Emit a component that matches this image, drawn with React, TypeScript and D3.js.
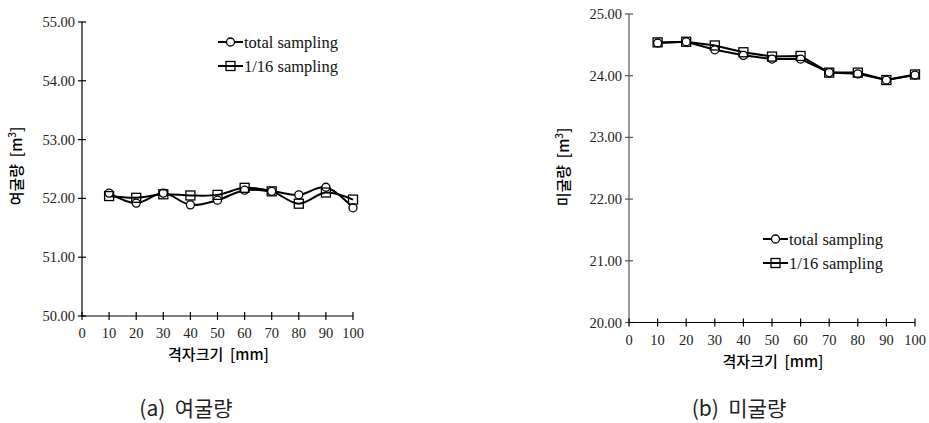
import React, { useEffect, useRef } from 'react';
import * as d3 from 'd3';

// grid size [mm]
const gridSizes = [10, 20, 30, 40, 50, 60, 70, 80, 90, 100];
const xTicks = [0, 10, 20, 30, 40, 50, 60, 70, 80, 90, 100];

// (a) 여굴량
const overTotal = [52.09, 51.92, 52.09, 51.89, 51.97, 52.14, 52.12, 52.06, 52.19, 51.84];
const overSixteenth = [52.04, 52.01, 52.07, 52.05, 52.06, 52.18, 52.12, 51.91, 52.10, 51.98];
const overTicks = [50, 51, 52, 53, 54, 55];

// (b) 미굴량
const underTotal = [24.53, 24.55, 24.42, 24.33, 24.27, 24.27, 24.05, 24.03, 23.93, 24.01];
const underSixteenth = [24.54, 24.55, 24.49, 24.38, 24.31, 24.32, 24.05, 24.05, 23.93, 24.02];
const underTicks = [20, 21, 22, 23, 24, 25];

const legendLabels = ['total sampling', '1/16 sampling'];
const serif = '"Liberation Serif", "Times New Roman", serif';
const korean = '"Noto Sans CJK KR", sans-serif';

type PanelProps = {
  total: number[];
  sixteenth: number[];
  yTicks: number[];
  yLabel: string;
  box: { left: number; right: number; top: number; bottom: number };
  legend: { x: number; y: number };
  yLabelMid: number;
  smooth: boolean;
  axisColor: string;
};

const Panel = ({ total, sixteenth, yTicks, yLabel, box, legend, yLabelMid, smooth, axisColor }: PanelProps) => {
  const ref = useRef<SVGGElement>(null);

  useEffect(() => {
    const g = d3.select(ref.current);
    g.selectAll('*').remove();

    const x = d3.scaleLinear().domain([0, 100]).range([box.left, box.right]);
    const y = d3
      .scaleLinear()
      .domain([yTicks[0], yTicks[yTicks.length - 1]])
      .range([box.bottom, box.top]);

    // y axis
    g.append('line')
      .attr('x1', box.left).attr('x2', box.left)
      .attr('y1', y.range()[1]).attr('y2', box.bottom)
      .attr('stroke', axisColor).attr('stroke-width', 1.2);
    yTicks.forEach((t) => {
      g.append('line')
        .attr('x1', box.left - 4).attr('x2', box.left + 4)
        .attr('y1', y(t)).attr('y2', y(t))
        .attr('stroke', axisColor).attr('stroke-width', 1.2);
      g.append('text')
        .attr('x', box.left - 7).attr('y', y(t)).attr('dy', '0.35em')
        .attr('text-anchor', 'end')
        .attr('font-family', serif).attr('font-size', 14.5)
        .attr('fill', '#222')
        .text(t.toFixed(2));
    });

    // x axis
    g.append('line')
      .attr('x1', box.left).attr('x2', box.right)
      .attr('y1', box.bottom).attr('y2', box.bottom)
      .attr('stroke', '#000').attr('stroke-width', 1.2);
    xTicks.forEach((t) => {
      g.append('line')
        .attr('x1', x(t)).attr('x2', x(t))
        .attr('y1', box.bottom - 4).attr('y2', box.bottom + 4)
        .attr('stroke', '#000').attr('stroke-width', 1.2);
      g.append('text')
        .attr('x', x(t)).attr('y', box.bottom + 22)
        .attr('text-anchor', 'middle')
        .attr('font-family', serif).attr('font-size', 14.5)
        .attr('fill', '#222')
        .text(t);
    });

    // axis titles
    g.append('text')
      .attr('x', (box.left + box.right) / 2 + 1).attr('y', box.bottom + 44)
      .attr('text-anchor', 'middle')
      .attr('font-family', korean).attr('font-size', 15).attr('font-weight', 500)
      .attr('xml:space', 'preserve')
      .style('white-space', 'pre')
      .text('격자크기  [mm]');
    const yt = g.append('text')
      .attr('transform', `translate(${box.left - 60}, ${yLabelMid}) rotate(-90)`)
      .attr('text-anchor', 'middle')
      .attr('font-family', korean).attr('font-size', 15).attr('font-weight', 500)
      .style('white-space', 'pre');
    yt.append('tspan').text(`${yLabel}  [m`);
    yt.append('tspan').attr('font-size', 10).attr('dy', -6).text('3');
    yt.append('tspan').attr('dy', 6).text(']');

    const line = d3
      .line<number>()
      .x((_, i) => x(gridSizes[i]))
      .y((d) => y(d))
      .curve(smooth ? d3.curveCatmullRom.alpha(0.5) : d3.curveLinear);

    [total, sixteenth].forEach((series) => {
      g.append('path')
        .datum(series)
        .attr('fill', 'none')
        .attr('stroke', '#000')
        .attr('stroke-width', 2)
        .attr('d', line);
    });

    const circle = (sel: any, cx: number, cy: number) =>
      sel.append('circle')
        .attr('cx', cx).attr('cy', cy).attr('r', 4)
        .attr('fill', '#fff').attr('stroke', '#000').attr('stroke-width', 1.3);
    const square = (sel: any, cx: number, cy: number) =>
      sel.append('rect')
        .attr('x', cx - 4.5).attr('y', cy - 4.5).attr('width', 9).attr('height', 9)
        .attr('fill', 'none').attr('stroke', '#000').attr('stroke-width', 1.3);

    total.forEach((v, i) => circle(g, x(gridSizes[i]), y(v)));
    sixteenth.forEach((v, i) => square(g, x(gridSizes[i]), y(v)));

    // legend
    legendLabels.forEach((label, i) => {
      const ly = legend.y + i * 24;
      g.append('line')
        .attr('x1', legend.x).attr('x2', legend.x + 25)
        .attr('y1', ly).attr('y2', ly)
        .attr('stroke', '#000').attr('stroke-width', 2);
      if (i === 0) circle(g, legend.x + 12.5, ly);
      else square(g, legend.x + 12.5, ly);
      g.append('text')
        .attr('x', legend.x + 26).attr('y', ly).attr('dy', '0.35em')
        .attr('font-family', serif).attr('font-size', 16.5)
        .attr('fill', '#111')
        .text(label);
    });
  }, [total, sixteenth, yTicks, yLabel, box, legend, yLabelMid, smooth, axisColor]);

  return <g ref={ref} />;
};

const App = () => (
  <svg
    width={929}
    height={423}
    style={{ position: 'absolute', left: 0, top: 0, background: '#fff' }}
  >
    <Panel
      total={overTotal}
      sixteenth={overSixteenth}
      yTicks={overTicks}
      yLabel="여굴량"
      box={{ left: 82, right: 353, top: 22, bottom: 316 }}
      legend={{ x: 218, y: 42 }}
      yLabelMid={166}
      smooth={true}
      axisColor="#000"
    />
    <Panel
      total={underTotal}
      sixteenth={underSixteenth}
      yTicks={underTicks}
      yLabel="미굴량"
      box={{ left: 629, right: 915, top: 14, bottom: 322.5 }}
      legend={{ x: 763, y: 239 }}
      yLabelMid={167}
      smooth={false}
      axisColor="#555"
    />
    <text x={186} y={416} textAnchor="middle" fontFamily={korean} fontSize={21} fill="#222" style={{ whiteSpace: 'pre' }}>
      {'(a)  여굴량'}
    </text>
    <text x={739} y={416} textAnchor="middle" fontFamily={korean} fontSize={21} fill="#222" style={{ whiteSpace: 'pre' }}>
      {'(b)  미굴량'}
    </text>
  </svg>
);

export default App;
